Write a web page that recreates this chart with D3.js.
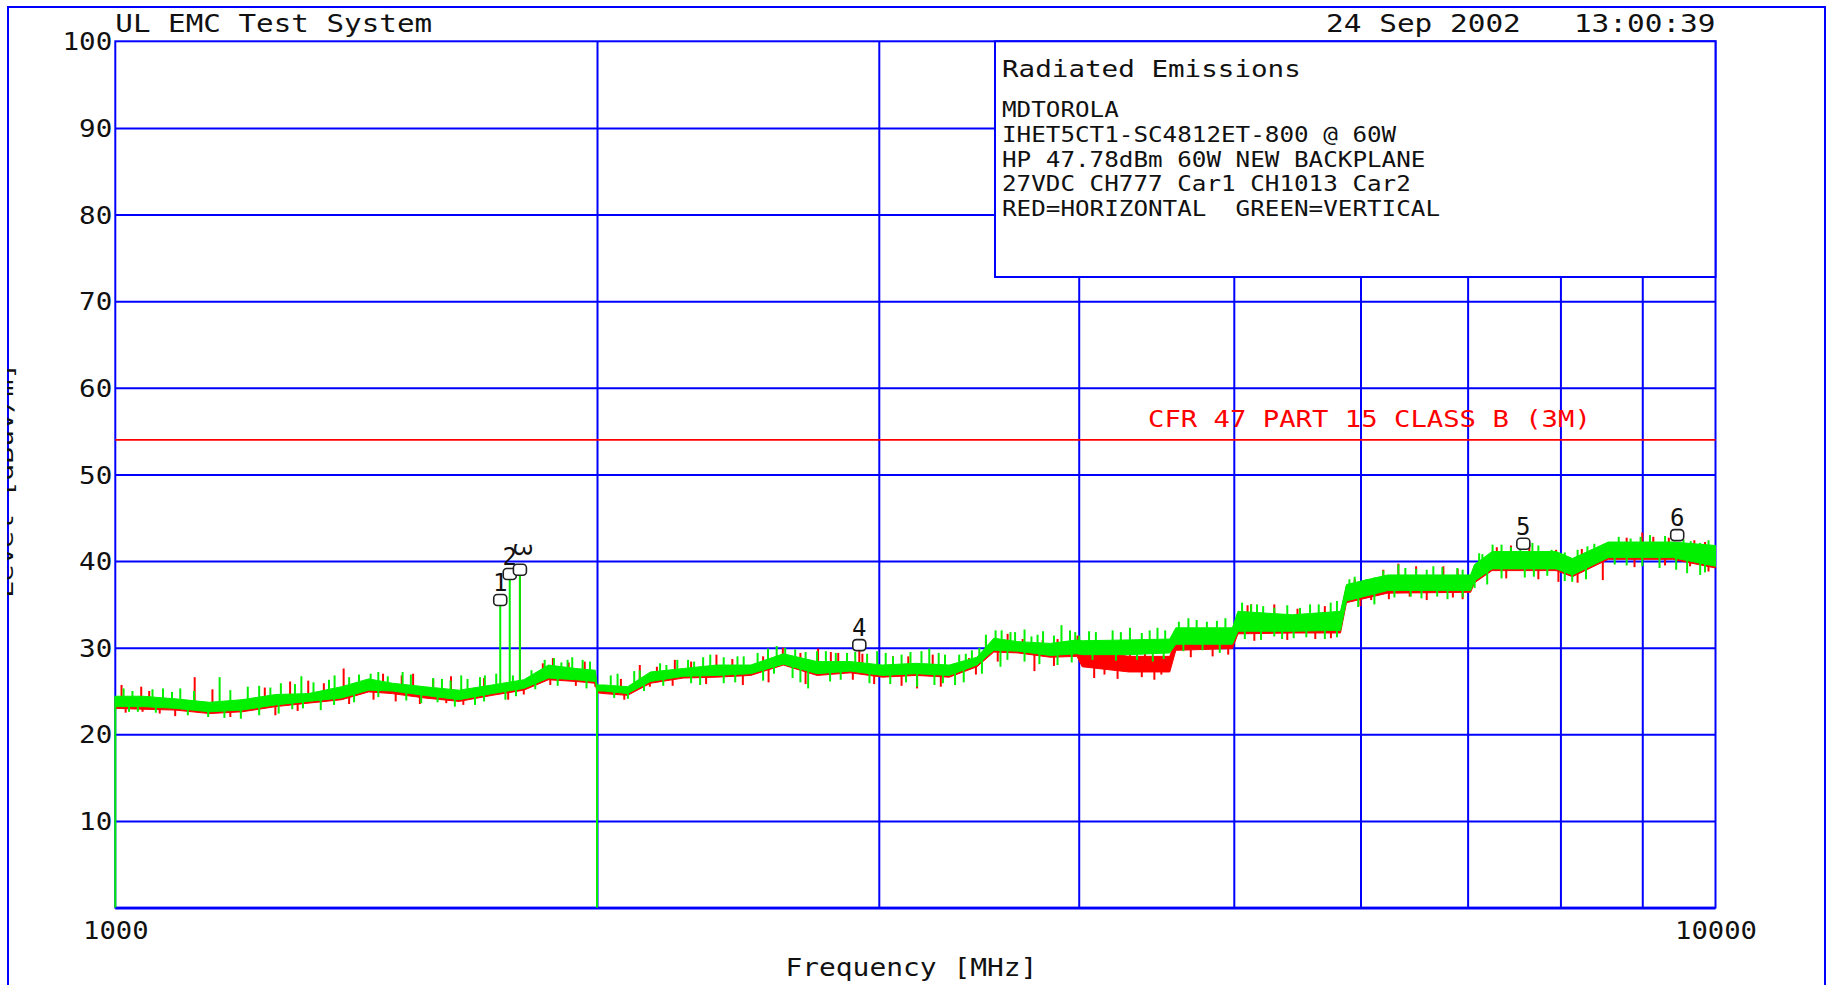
<!DOCTYPE html>
<html>
<head>
<meta charset="utf-8">
<script src="https://cdn.jsdelivr.net/npm/d3@7/dist/d3.min.js"></script>
<style>
  html, body { margin: 0; padding: 0; background: #fff; overflow: hidden; }
  svg { display: block; }
  text { font-family: "DejaVu Sans Mono", monospace; fill: #111; white-space: pre; }
</style>
</head>
<body>
<svg id="chart" width="1834" height="985"></svg>
<script>
// ---------------- data ----------------
const yTicks = [10, 20, 30, 40, 50, 60, 70, 80, 90, 100];
const yTickLabels = ["10", "20", "30", "40", "50", "60", "70", "80", "90", "100"];
const xTicks = [1000, 10000];
const xTickLabels = ["1000", "10000"];
const gridFreqs = [2000, 3000, 4000, 5000, 6000, 7000, 8000, 9000];

const limitLevel = 54;
const limitLabel = "CFR 47 PART 15 CLASS B (3M)";

// sweep segments start from the bottom of the scale
const sweepStarts = [1000, 2000];
const sweepStartLevels = [0, 0];

// trace envelope (MHz, dBuV/m): low / high edge of the noise band
const bandFreqs = [1000, 1040, 1090, 1145, 1200, 1260, 1320, 1385, 1440, 1490, 1560, 1640, 1720, 1800, 1865, 1940, 1995,
  2000, 2020, 2090, 2160, 2265, 2375, 2495, 2615, 2745, 2880, 3015, 3165, 3320, 3455, 3540, 3665, 3840, 3990, 4020, 4300, 4560,
  4600, 4990, 5030, 5440, 5830, 5880, 6240, 7030, 7070, 7250, 7950, 8140, 8570, 9400, 10000];

const vertLo = [23.2, 23.2, 23.0, 22.6, 22.8, 23.4, 23.8, 24.2, 25.1, 25.0, 24.5, 24.0, 24.7, 25.3, 26.5, 26.3, 26.1,
  25.0, 25.0, 24.7, 26.1, 26.7, 26.8, 27.0, 28.1, 27.0, 27.3, 26.8, 27.0, 26.8, 28.0, 29.7, 29.6, 29.1, 29.3, 29.2, 29.2, 29.4,
  30.4, 30.4, 31.9, 31.9, 32.0, 35.4, 36.6, 36.6, 37.7, 39.1, 39.1, 38.4, 40.4, 40.4, 39.4];
const vertHi = [24.4, 24.4, 24.1, 23.7, 24.0, 24.6, 24.7, 25.5, 26.4, 25.9, 25.5, 25.1, 25.7, 26.3, 28.0, 27.6, 27.4,
  25.7, 25.7, 25.5, 27.2, 27.6, 28.0, 28.0, 29.3, 28.4, 28.4, 28.0, 28.2, 28.0, 28.9, 31.1, 30.7, 30.5, 30.9, 30.8, 30.9, 31.0,
  32.3, 32.3, 34.2, 33.8, 34.2, 37.3, 38.4, 38.4, 39.6, 41.1, 41.1, 40.3, 42.2, 42.2, 41.8];

const horLo = [23.0, 22.9, 22.8, 22.4, 22.6, 23.2, 23.6, 24.0, 24.9, 24.7, 24.2, 23.8, 24.5, 25.1, 26.3, 26.1, 25.9,
  24.8, 24.7, 24.5, 25.9, 26.5, 26.6, 26.8, 28.0, 26.8, 27.1, 26.6, 26.8, 26.6, 27.8, 29.5, 29.4, 28.9, 29.0, 27.8, 27.2, 27.2,
  29.7, 29.9, 31.6, 31.7, 31.7, 35.2, 36.3, 36.4, 37.5, 38.9, 38.9, 38.2, 40.2, 40.2, 39.2];
const horHi = [24.2, 24.2, 23.9, 23.5, 23.8, 24.4, 24.5, 25.3, 26.2, 25.7, 25.3, 24.9, 25.5, 26.1, 27.8, 27.4, 27.2,
  25.5, 25.5, 25.3, 27.0, 27.4, 27.8, 27.8, 29.1, 28.2, 28.2, 27.8, 28.0, 27.8, 28.7, 30.9, 30.5, 30.3, 30.6, 29.8, 29.0, 29.0,
  31.1, 31.5, 33.8, 33.6, 33.9, 37.1, 38.2, 38.2, 39.4, 40.9, 40.9, 40.1, 42.0, 42.0, 41.6];

// individual excursions out of the band (MHz, dBuV/m)
const vertSpikes = [
  // 1-2 GHz
  [1012, 25.3], [1025, 25.0], [1055, 25.2], [1071, 25.3], [1085, 24.9], [1098, 25.3], [1120, 25.0], [1162, 26.6],
  [1180, 25.1], [1210, 25.5], [1230, 25.6], [1250, 25.4], [1269, 25.9], [1295, 25.8], [1307, 26.7], [1330, 26.0],
  [1360, 26.3], [1371, 26.8], [1400, 26.6], [1420, 26.9], [1444, 27.0], [1460, 27.2], [1480, 26.7], [1512, 27.2],
  [1530, 26.9], [1580, 26.5], [1600, 26.4], [1620, 26.2], [1645, 26.8], [1660, 26.4], [1690, 26.6], [1702, 26.8],
  [1730, 27.0], [1772, 26.8], [1820, 27.4], [1855, 28.6], [1880, 28.8], [1900, 28.3], [1917, 28.6], [1930, 28.9],
  [1959, 28.6], [1980, 28.4],
  [1020, 22.6], [1033, 22.6], [1060, 22.5], [1110, 22.2], [1143, 22.0], [1170, 21.9], [1198, 21.8], [1230, 22.2],
  [1265, 22.4], [1290, 22.9], [1310, 23.0], [1344, 22.8], [1370, 23.4], [1410, 23.7], [1460, 24.3], [1520, 23.9],
  [1553, 23.6], [1590, 23.7], [1630, 23.2], [1678, 23.4], [1700, 23.8], [1753, 24.0], [1780, 24.4], [1830, 25.2],
  [1890, 25.6], [1970, 25.3],
  // 2-4 GHz
  [2040, 26.8], [2060, 27.0], [2110, 27.3], [2127, 27.4], [2190, 28.2], [2210, 28.0], [2245, 28.6], [2280, 28.6],
  [2300, 28.4], [2330, 28.9], [2354, 29.2], [2400, 28.9], [2448, 29.0], [2470, 29.0], [2520, 29.4], [2558, 29.9],
  [2590, 30.2], [2622, 30.0], [2660, 29.8], [2700, 29.5], [2745, 29.6], [2780, 29.6], [2820, 29.4], [2866, 29.4],
  [2900, 29.5], [2950, 29.3], [2993, 29.6], [3030, 29.4], [3062, 29.0], [3100, 29.2], [3140, 29.5], [3190, 29.6],
  [3226, 29.9], [3270, 29.4], [3300, 29.2], [3368, 29.2], [3400, 29.3], [3430, 29.7], [3467, 30.0], [3500, 31.5],
  [3549, 32.0], [3580, 32.0], [3626, 31.8], [3650, 31.8], [3700, 32.1], [3737, 31.3], [3770, 31.5], [3800, 31.9],
  [3860, 31.4], [3902, 32.6], [3950, 32.0], [3980, 31.8],
  [2050, 24.2], [2091, 24.1], [2140, 25.0], [2200, 25.6], [2290, 25.9], [2320, 25.7], [2400, 25.9], [2440, 26.0],
  [2540, 26.2], [2580, 27.0], [2650, 26.5], [2680, 26.0], [2710, 25.3], [2797, 26.1], [2840, 26.3], [2960, 25.9],
  [3050, 25.8], [3120, 26.0], [3170, 25.5], [3250, 25.7], [3290, 25.9], [3348, 25.7], [3390, 26.0], [3480, 27.0],
  [3574, 27.8], [3610, 28.6], [3700, 28.4], [3780, 28.1], [3880, 28.0], [3960, 28.3],
  // 4-5 GHz
  [4003, 31.4], [4060, 31.9], [4100, 31.8], [4200, 32.0], [4250, 31.8], [4306, 32.3], [4380, 31.7], [4430, 32.0],
  [4480, 32.3], [4530, 32.0], [4620, 33.0], [4684, 33.4], [4740, 33.2], [4810, 33.0], [4880, 33.1], [4940, 33.4],
  [4080, 28.6], [4220, 28.5], [4350, 28.6], [4450, 28.4], [4520, 28.7], [4650, 29.6], [4780, 29.7], [4900, 29.4],
  // 5-7 GHz
  [5060, 35.2], [5126, 35.0], [5170, 35.0], [5216, 34.8], [5300, 34.6], [5400, 34.9], [5500, 34.6], [5580, 35.0],
  [5650, 35.0], [5748, 35.2], [5800, 35.4], [5905, 37.9], [5950, 38.2], [6050, 37.9], [6121, 38.1], [6200, 38.9],
  [6336, 39.6], [6400, 39.2], [6500, 39.1], [6600, 39.0], [6663, 39.4], [6750, 39.3], [6897, 39.2], [6950, 39.0],
  [5080, 31.0], [5200, 30.9], [5300, 31.3], [5360, 31.0], [5450, 31.1], [5550, 31.2], [5700, 31.0], [5800, 31.2],
  [5980, 34.7], [6121, 35.0], [6300, 35.8], [6450, 35.9], [6550, 35.7], [6700, 35.9], [6800, 35.6], [6950, 35.8],
  // 7-10 GHz
  [7117, 40.9], [7150, 40.8], [7256, 41.9], [7350, 41.9], [7450, 41.6], [7550, 42.2], [7684, 42.1], [7750, 41.8],
  [7900, 41.3], [8050, 41.0], [8200, 41.3], [8317, 41.7], [8400, 42.0], [8560, 42.1], [8700, 42.8], [8850, 42.6],
  [8978, 42.8], [9100, 43.0], [9300, 42.9], [9550, 42.5], [9650, 42.3], [9782, 42.1], [9900, 42.4],
  [7071, 36.9], [7200, 37.3], [7350, 38.0], [7600, 38.1], [7700, 38.2], [7850, 38.3], [8050, 37.7], [8137, 37.6],
  [8300, 37.9], [8650, 39.6], [8800, 39.5], [9000, 39.4], [9226, 39.2], [9450, 39.0], [9600, 38.6], [9782, 38.4],
  [9850, 38.7],
  // narrowband peaks
  [1740, 35.5], [1764, 38.5], [1790, 38.6]
];
const horSpikes = [
  [1009, 25.7], [1038, 25.5], [1050, 25.0], [1121, 26.6], [1150, 25.2], [1240, 25.4], [1286, 26.1], [1320, 26.2],
  [1350, 25.9], [1389, 27.6], [1420, 26.6], [1470, 27.0], [1510, 26.8], [1535, 27.0], [1580, 26.4], [1621, 26.7],
  [1700, 26.5], [1850, 28.2], [1877, 28.8], [1920, 28.3], [1965, 28.4],
  [1015, 22.5], [1040, 22.6], [1066, 22.4], [1090, 22.1], [1180, 22.0], [1259, 22.2], [1300, 22.7], [1400, 23.5],
  [1450, 24.0], [1497, 23.8], [1550, 23.5], [1610, 23.6], [1650, 23.4], [1760, 24.0], [1800, 24.6], [1870, 25.7],
  [1940, 25.6], [1995, 25.5],
  [2070, 26.4], [2127, 28.0], [2180, 27.8], [2237, 28.6], [2290, 28.4], [2375, 29.2], [2430, 28.7], [2540, 29.0],
  [2613, 30.0], [2680, 29.4], [2749, 29.9], [2800, 29.5], [2830, 29.4], [2930, 29.3], [3062, 29.0], [3130, 29.0],
  [3242, 29.2], [3300, 29.1], [3416, 28.8], [3500, 30.8], [3611, 31.6], [3690, 31.0], [3798, 30.9], [3880, 31.0],
  [3993, 31.4],
  [2019, 24.7], [2080, 24.0], [2158, 25.5], [2230, 25.6], [2340, 25.8], [2467, 25.7], [2560, 26.0], [2700, 25.8],
  [2890, 26.3], [2980, 25.8], [3100, 25.6], [3170, 25.3], [3280, 25.5], [3450, 26.9], [3560, 28.4], [3753, 27.3],
  [3860, 27.9],
  [4050, 30.0], [4200, 29.7], [4306, 30.7], [4400, 29.6], [4640, 31.8], [4760, 32.0], [4920, 32.2],
  [4090, 26.5], [4151, 26.9], [4230, 26.4], [4380, 26.6], [4460, 26.3], [4505, 26.9], [4700, 28.9], [4850, 29.0],
  [4960, 29.2],
  [5100, 34.9], [5126, 35.0], [5300, 35.0], [5480, 34.5], [5700, 34.8], [5950, 37.9], [6093, 37.8], [6200, 39.0],
  [6336, 39.7], [6500, 39.4], [6760, 39.4], [6900, 39.1],
  [5150, 30.8], [5257, 31.6], [5400, 30.9], [5622, 31.0], [5750, 31.1], [6000, 34.8], [6093, 35.5], [6250, 35.6],
  [6440, 35.9], [6600, 35.5], [6853, 35.8], [6950, 35.6],
  [7300, 41.6], [7450, 41.8], [7650, 41.9], [7950, 41.3], [8250, 41.4], [8800, 42.7], [9000, 43.3], [9144, 42.8],
  [9350, 42.7], [9700, 42.4], [9850, 42.2],
  [7400, 38.0], [7750, 37.9], [7977, 37.6], [8200, 37.5], [8503, 37.8], [8900, 39.3], [9300, 39.5], [9641, 39.4],
  [9900, 38.8],
  // narrowband peaks
  [1790, 39.0], [2917, 30.3]
];

// peak markers
const markerLabels = ["1", "2", "3", "4", "5", "6"];
const markerFreqs = [1740, 1764, 1790, 2917, 7584, 9464];
const markerLevels = [35.5, 38.5, 39.0, 30.3, 42.0, 43.0];

// header and legend text
const titleText = "UL EMC Test System";
const dateText = "24 Sep 2002   13:00:39";
const legendTitle = "Radiated Emissions";
const legendLines = [
  "MDTOROLA",
  "IHET5CT1-SC4812ET-800 @ 60W",
  "HP 47.78dBm 60W NEW BACKPLANE",
  "27VDC CH777 Car1 CH1013 Car2",
  "RED=HORIZONTAL  GREEN=VERTICAL"
];
const xTitle = "Frequency [MHz]";
const yTitle = "Level [dBuV/m]";

// ---------------- drawing ----------------
const BLUE = "#0000ff", RED = "#ff0000", GREEN = "#00f000";
const svg = d3.select("#chart");

const plot = { left: 115.3, right: 1715.5, top: 41.3, bottom: 907.6 };
const x = d3.scaleLog().domain([1000, 10000]).range([plot.left, plot.right]);
const y = d3.scaleLinear().domain([0, 100]).range([plot.bottom, plot.top]);

function fit(sel, perChar) {
  sel.attr("xml:space", "preserve")
     .attr("textLength", function () { return this.textContent.length * perChar; })
     .attr("lengthAdjust", "spacingAndGlyphs");
  return sel;
}

// outer frame (open at the bottom edge of the page)
svg.append("rect").attr("x", 8).attr("y", 7).attr("width", 1817).attr("height", 1100)
  .attr("fill", "none").attr("stroke", BLUE).attr("stroke-width", 2);

// y title, mostly hidden beyond the left frame
svg.append("clipPath").attr("id", "ytclip")
  .append("rect").attr("x", 7).attr("y", 0).attr("width", 40).attr("height", 985);
const yt = svg.append("g").attr("clip-path", "url(#ytclip)")
  .append("text")
  .attr("transform", `translate(13,${(plot.top + plot.bottom) / 2 + 6}) rotate(-90)`)
  .attr("text-anchor", "middle").attr("font-size", 22).text(yTitle);
fit(yt, 16.8);

// grid
const gGrid = svg.append("g");
gGrid.append("g").attr("transform", `translate(${plot.left},0)`)
  .call(d3.axisLeft(y).tickValues(yTicks.slice(0, -1)).tickSize(-(plot.right - plot.left)).tickFormat(""))
  .call(g => g.select(".domain").remove())
  .call(g => g.selectAll("line").attr("stroke", BLUE).attr("stroke-width", 2));
gGrid.append("g").attr("transform", `translate(0,${plot.bottom})`)
  .call(d3.axisBottom(x).tickValues(gridFreqs).tickSize(-(plot.bottom - plot.top)).tickFormat(""))
  .call(g => g.select(".domain").remove())
  .call(g => g.selectAll("line").attr("stroke", BLUE).attr("stroke-width", 2));

// plot frame
svg.append("rect").attr("x", plot.left).attr("y", plot.top)
  .attr("width", plot.right - plot.left).attr("height", plot.bottom - plot.top)
  .attr("fill", "none").attr("stroke", BLUE).attr("stroke-width", 2);
svg.append("line").attr("x1", plot.left).attr("x2", plot.right)
  .attr("y1", plot.bottom + 1).attr("y2", plot.bottom + 1)
  .attr("stroke", BLUE).attr("stroke-width", 2);

// legend box
const lg = { x: 995, y: plot.top, w: plot.right - 995, h: 277 - plot.top };
svg.append("rect").attr("x", lg.x).attr("y", lg.y).attr("width", lg.w).attr("height", lg.h)
  .attr("fill", "#fff").attr("stroke", BLUE).attr("stroke-width", 2);
fit(svg.append("text").attr("x", lg.x + 7).attr("y", 77).attr("font-size", 23).text(legendTitle), 16.6);
legendLines.forEach((t, i) => {
  fit(svg.append("text").attr("x", lg.x + 7).attr("y", 117 + i * 24.8).attr("font-size", 21).text(t), 14.6);
});

// limit line
svg.append("line").attr("x1", plot.left).attr("x2", plot.right)
  .attr("y1", y(limitLevel)).attr("y2", y(limitLevel))
  .attr("stroke", RED).attr("stroke-width", 1.8);
fit(svg.append("text").attr("x", 1148).attr("y", y(limitLevel) - 13).attr("font-size", 23)
  .style("fill", RED).text(limitLabel), 16.4);

// traces: noise band plus excursions
const bandIdx = d3.range(bandFreqs.length);
function drawTrace(lo, hi, spikes, color) {
  const g = svg.append("g");
  const area = d3.area()
    .x(i => x(bandFreqs[i])).y0(i => y(lo[i])).y1(i => y(hi[i]));
  g.append("path").datum(bandIdx).attr("d", area)
    .attr("fill", color).attr("stroke", color).attr("stroke-width", 1);
  const mid = f => {
    const j = Math.min(bandFreqs.length - 1, Math.max(1, d3.bisectLeft(bandFreqs, f)));
    const a = bandFreqs[j - 1], b = bandFreqs[j];
    const t = (Math.log(f) - Math.log(a)) / (Math.log(b) - Math.log(a));
    return ((lo[j - 1] + hi[j - 1]) * (1 - t) + (lo[j] + hi[j]) * t) / 2;
  };
  g.selectAll("line.sp").data(spikes).join("line").attr("class", "sp")
    .attr("x1", d => x(d[0])).attr("x2", d => x(d[0]))
    .attr("y1", d => y(mid(d[0]))).attr("y2", d => y(d[1]))
    .attr("stroke", color).attr("stroke-width", 2);
}
drawTrace(horLo, horHi, horSpikes, RED);
drawTrace(vertLo, vertHi, vertSpikes, GREEN);

// sweep start risers
svg.selectAll("line.riser").data(sweepStarts).join("line").attr("class", "riser")
  .attr("x1", d => x(d)).attr("x2", d => x(d))
  .attr("y1", (d, i) => y(sweepStartLevels[i]))
  .attr("y2", d => y(vertHi[bandFreqs.indexOf(d)]))
  .attr("stroke", GREEN).attr("stroke-width", 2);

// markers
const gm = svg.append("g");
markerFreqs.forEach((f, i) => {
  const mx = x(f), my = y(markerLevels[i]);
  gm.append("rect").attr("x", mx - 6.5).attr("y", my - 5.5)
    .attr("width", 13).attr("height", 11).attr("rx", 3.5)
    .attr("fill", "#fff").attr("stroke", "#222").attr("stroke-width", 1.6);
  const lab = gm.append("text").attr("font-size", 24).attr("text-anchor", "middle").text(markerLabels[i]);
  if (markerLabels[i] === "3") {
    // crowded label is set on its side
    lab.attr("transform", `translate(${mx + 2},${my - 20}) rotate(90)`).attr("dy", "0.35em");
  } else {
    lab.attr("x", mx).attr("y", my - 9);
  }
});

// y tick labels
svg.append("g").attr("transform", `translate(${plot.left - 3},0)`)
  .call(d3.axisLeft(y).tickValues(yTicks).tickSize(0).tickPadding(0)
    .tickFormat((d, i) => yTickLabels[i]))
  .call(g => g.select(".domain").remove())
  .call(g => g.selectAll("text").attr("font-size", 24).attr("font-family", "DejaVu Sans Mono")
    .attr("fill", "#111").attr("dy", "0.36em")
    .attr("textLength", function () { return this.textContent.length * 16.6; })
    .attr("lengthAdjust", "spacingAndGlyphs"));

// x tick labels
svg.append("g").attr("transform", `translate(0,${plot.bottom})`)
  .call(d3.axisBottom(x).tickValues(xTicks).tickSize(0).tickPadding(14)
    .tickFormat((d, i) => xTickLabels[i]))
  .call(g => g.select(".domain").remove())
  .call(g => g.selectAll("text").attr("font-size", 24).attr("font-family", "DejaVu Sans Mono")
    .attr("fill", "#111")
    .attr("textLength", function () { return this.textContent.length * 16.4; })
    .attr("lengthAdjust", "spacingAndGlyphs"));

// titles
fit(svg.append("text").attr("x", plot.left).attr("y", 32).attr("font-size", 25).text(titleText), 17.6);
fit(svg.append("text").attr("x", plot.right).attr("y", 32).attr("font-size", 25)
  .attr("text-anchor", "end").text(dateText), 17.7);
fit(svg.append("text").attr("x", (plot.left + plot.right) / 2 - 4).attr("y", 976).attr("font-size", 24)
  .attr("text-anchor", "middle").text(xTitle), 16.8);
</script>
</body>
</html>
